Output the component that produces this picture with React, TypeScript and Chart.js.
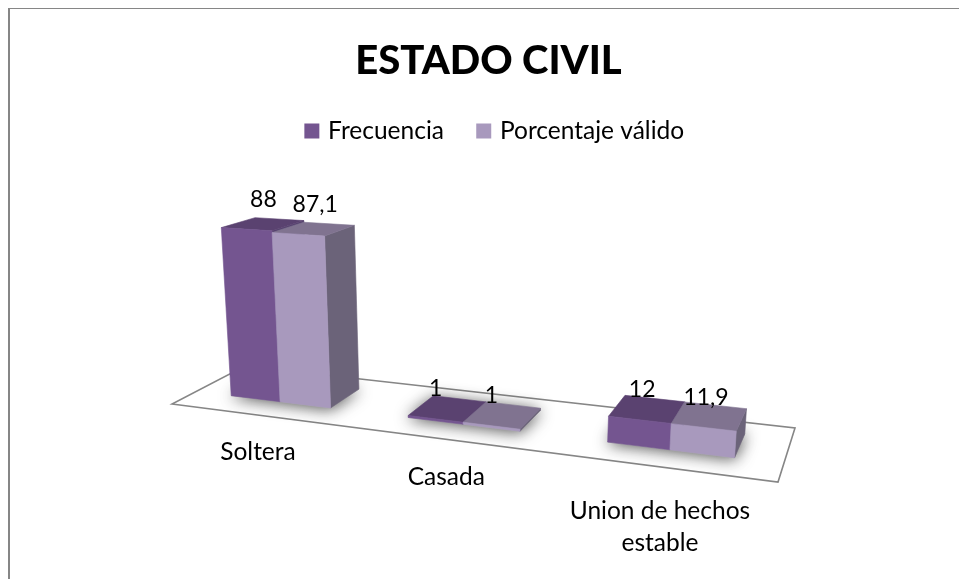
import React, { useEffect, useRef } from "react";
import { Chart, registerables } from "chart.js";

Chart.register(...registerables);

const categories: (string | string[])[] = ["Soltera", "Casada", ["Union de hechos", "estable"]];
const frecuencia = [88, 1, 12];
const porcentajeValido = [87.1, 1, 11.9];

const FONT = "Lato";
const LINE = "#868686";
const FACES = [
  { front: "#745590", top: "#5a4270", side: "#574470" },
  { front: "#a899bd", top: "#807390", side: "#6b6379" },
];

// Perspective of the 3D floor, in canvas pixels (page minus the 8px offset)
const FLOOR = [[164, 396], [770, 474], [787, 420], [237, 358]];
const VANISH = [465, 4482];
const PX_PER_UNIT = 1.95;
const Z_FRONT = 0.31;
const Z_BACK = 0.77;
const LABEL_DROP = [37, 38, 44];
const LINE_HEIGHT = 32;

function makeFloor() {
  const [p0, p1, p2, p3] = FLOOR;
  const dx1 = p1[0] - p2[0], dx2 = p3[0] - p2[0], sx = p0[0] - p1[0] + p2[0] - p3[0];
  const dy1 = p1[1] - p2[1], dy2 = p3[1] - p2[1], sy = p0[1] - p1[1] + p2[1] - p3[1];
  const den = dx1 * dy2 - dx2 * dy1;
  const g = (sx * dy2 - dx2 * sy) / den;
  const h = (dx1 * sy - sx * dy1) / den;
  return (u: number, z: number) => {
    const w = 1 + g * u + h * z;
    return {
      w,
      x: (p0[0] + (p1[0] - p0[0] + g * p1[0]) * u + (p3[0] - p0[0] + h * p3[0]) * z) / w,
      y: (p0[1] + (p1[1] - p0[1] + g * p1[1]) * u + (p3[1] - p0[1] + h * p3[1]) * z) / w,
    };
  };
}
const floorAt = makeFloor();

function project(u: number, z: number, units: number) {
  const b = floorAt(u, z);
  const h = (units * PX_PER_UNIT) / b.w;
  return { x: b.x + ((b.x - VANISH[0]) * h) / (VANISH[1] - b.y), y: b.y - h, h };
}

function poly(ctx: CanvasRenderingContext2D, pts: { x: number; y: number }[], fill: string) {
  ctx.beginPath();
  pts.forEach((p, i) => (i ? ctx.lineTo(p.x, p.y) : ctx.moveTo(p.x, p.y)));
  ctx.closePath();
  ctx.fillStyle = fill;
  ctx.strokeStyle = fill;
  ctx.lineWidth = 0.6;
  ctx.fill();
  ctx.stroke();
}

const scene3d = {
  id: "scene3d",
  beforeDraw(chart: any) {
    const { ctx } = chart;
    ctx.save();
    ctx.fillStyle = "#ffffff";
    ctx.fillRect(0, 0, chart.width, chart.height);
    ctx.fillStyle = LINE;
    ctx.fillRect(0, 0, chart.width, 1);
    ctx.fillRect(0, 0, 2, chart.height);
    ctx.restore();
    // Title and legend are centred on the original's wider frame, not the floor.
    const { legend, titleBlock } = chart;
    if (legend && !legend.$moved) {
      legend.left += 21;
      legend.right += 21;
      legend.top -= 2;
      legend.bottom -= 2;
      legend.$moved = true;
    }
    if (titleBlock && !titleBlock.$moved) {
      titleBlock.left += 13.5;
      titleBlock.right += 13.5;
      titleBlock.$moved = true;
    }
  },
  beforeDatasetsDraw(chart: any) {
    const { ctx, chartArea, scales } = chart;
    const yS = scales.y;
    const uOf = (px: number) => (px - chartArea.left) / (chartArea.right - chartArea.left);
    const unitsOf = (el: any) =>
      ((yS.getPixelForValue(0) - el.y) / yS.height) * (yS.max - yS.min);

    ctx.save();
    // floor outline
    ctx.beginPath();
    FLOOR.forEach((p, i) => (i ? ctx.lineTo(p[0], p[1]) : ctx.moveTo(p[0], p[1])));
    ctx.closePath();
    ctx.fillStyle = "#ffffff";
    ctx.fill();
    ctx.strokeStyle = LINE;
    ctx.lineWidth = 1.6;
    ctx.stroke();

    const metas = chart.data.datasets.map((_: any, i: number) => chart.getDatasetMeta(i));
    const count = chart.data.labels.length;

    // soft contact shadows
    for (let c = 0; c < count; c++) {
      const a = metas[0].data[c];
      const b = metas[metas.length - 1].data[c];
      const u0 = uOf(a.x - a.width / 2);
      const u1 = uOf(b.x + b.width / 2);
      ctx.save();
      ctx.shadowColor = "rgba(0,0,0,0.7)";
      ctx.shadowBlur = 16;
      ctx.shadowOffsetY = 1;
      poly(ctx, [floorAt(u0, Z_FRONT), floorAt(u1, Z_FRONT), floorAt(u1, Z_BACK), floorAt(u0, Z_BACK)], "#b0b0b0");
      ctx.restore();
    }

    // boxes
    for (let c = 0; c < count; c++) {
      metas.forEach((meta: any, d: number) => {
        const el = meta.data[c];
        const units = unitsOf(el);
        const u0 = uOf(el.x - el.width / 2);
        const u1 = uOf(el.x + el.width / 2);
        const f = FACES[d];
        poly(ctx, [project(u1, Z_FRONT, 0), project(u1, Z_BACK, 0), project(u1, Z_BACK, units), project(u1, Z_FRONT, units)], f.side);
        poly(ctx, [project(u0, Z_FRONT, units), project(u1, Z_FRONT, units), project(u1, Z_BACK, units), project(u0, Z_BACK, units)], f.top);
        poly(ctx, [project(u0, Z_FRONT, 0), project(u1, Z_FRONT, 0), project(u1, Z_FRONT, units), project(u0, Z_FRONT, units)], f.front);
      });
    }

    // value labels
    ctx.fillStyle = "#000000";
    ctx.font = `23px ${FONT}`;
    ctx.textAlign = "center";
    ctx.textBaseline = "middle";
    metas.forEach((meta: any, d: number) => {
      meta.data.forEach((el: any, c: number) => {
        const units = unitsOf(el);
        const p = project(uOf(el.x), Z_FRONT, units);
        const v = chart.data.datasets[d].data[c];
        ctx.fillText(String(v).replace(".", ","), p.x + p.h * 0.1, p.y - 30);
      });
    });

    // category labels, along the projected axis
    ctx.font = `24.5px ${FONT}`;
    scales.x.ticks.forEach((_: any, i: number) => {
      const base = floorAt(uOf(scales.x.getPixelForTick(i)), 0);
      const raw = chart.data.labels[i];
      const lines = Array.isArray(raw) ? raw : [raw];
      lines.forEach((t: string, k: number) => {
        ctx.fillText(t, base.x, base.y + LABEL_DROP[i] + k * LINE_HEIGHT);
      });
    });
    ctx.restore();
    return false;
  },
};

export default function App() {
  const ref = useRef<HTMLCanvasElement>(null);
  useEffect(() => {
    const chart = new Chart(ref.current!, {
      type: "bar",
      data: {
        labels: categories as any,
        datasets: [
          { label: "Frecuencia", data: frecuencia, backgroundColor: FACES[0].front, borderColor: FACES[0].front, borderWidth: 7, categoryPercentage: 0.576, barPercentage: 1 },
          { label: "Porcentaje válido", data: porcentajeValido, backgroundColor: FACES[1].front, borderColor: FACES[1].front, borderWidth: 7, categoryPercentage: 0.576, barPercentage: 1 },
        ],
      },
      options: {
        responsive: false,
        animation: false,
        layout: { padding: { left: 164, right: 191, top: 0, bottom: 107 } },
        scales: {
          x: { display: false },
          y: { display: false, min: 0, max: 100 },
        },
        plugins: {
          title: {
            display: true,
            text: "ESTADO CIVIL",
            color: "#000000",
            font: { family: FONT, size: 40, weight: "900" },
            padding: { top: 29, bottom: 0 },
          },
          legend: {
            display: true,
            position: "top",
            labels: {
              color: "#000000",
              font: { family: FONT, size: 24.5 },
              boxWidth: 8,
              boxHeight: 8,
              padding: 35.75,
            },
          },
          tooltip: { enabled: false },
        },
      },
      plugins: [scene3d],
    } as any);
    return () => chart.destroy();
  }, []);
  return (
    <div style={{ position: "fixed", left: 8, top: 8, width: 951, height: 571, overflow: "hidden" }}>
      <canvas ref={ref} width={961} height={581} style={{ display: "block" }} />
    </div>
  );
}
